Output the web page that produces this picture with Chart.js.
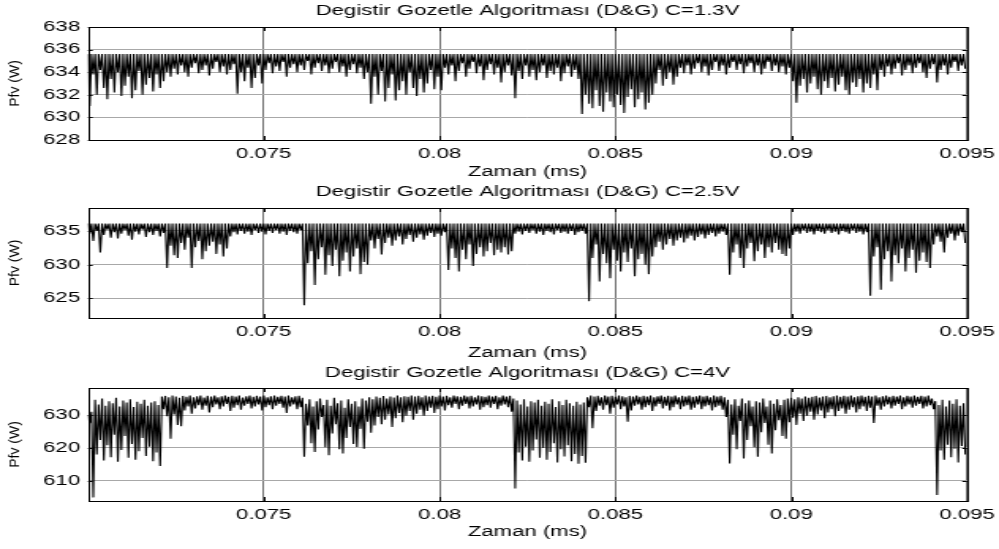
<!DOCTYPE html>
<html>
<head>
<meta charset="utf-8">
<script src="https://cdn.jsdelivr.net/npm/chart.js@4.4.1/dist/chart.umd.min.js"></script>
<style>
    html, body { margin: 0; padding: 0; background: #fff; }
    .panel { position: absolute; left: 0; width: 999px; }
    /* the reference figure is stretched sideways, so the canvases are drawn narrow and widened */
    .panel canvas { width: 999px; }
</style>
</head>
<body>
<div class="panel" style="top:0px;height:182px"><canvas id="c1" width="632" height="182" style="width:999px;height:182px"></canvas></div>
<div class="panel" style="top:182px;height:180px"><canvas id="c2" width="632" height="180" style="width:999px;height:180px"></canvas></div>
<div class="panel" style="top:362px;height:187px"><canvas id="c3" width="632" height="187" style="width:999px;height:187px"></canvas></div>
<script>
const STRETCH = 999 / 632;

const titles = [
    "Degistir Gozetle Algoritması (D&G) C=1.3V",
    "Degistir Gozetle Algoritması (D&G) C=2.5V",
    "Degistir Gozetle Algoritması (D&G) C=4V"
];
const xLabel = "Zaman (ms)";
const yLabel = "Pfv (W)";

const xTicks = [0.075, 0.08, 0.085, 0.09, 0.095];
const yTicks1 = [628, 630, 632, 634, 636, 638];
const yTicks2 = [625, 630, 635];
const yTicks3 = [610, 620, 630];

// sample times: one high + one low per step
const tStart = 0.07;
const tStep = 0.0001;

// C=1.3V
const high1 = 635.6;
const low1 = [
    631.0, 633.8, 632.0, 634.2, 632.6, 631.6, 633.4, 632.2, 634.0, 631.9, 632.8, 633.6, 631.7, 632.4, 634.1, 632.0, 632.9, 633.5, 632.3, 633.8, 632.6, 633.2, 634.0, 633.6, 634.3,
    633.8, 634.6, 634.0, 633.6, 634.4, 634.8, 633.9, 634.2, 634.6, 633.7, 634.3, 634.9, 634.0, 634.5, 633.8, 634.2, 634.7, 632.1, 634.0, 633.2, 634.4, 632.6, 633.5, 634.6, 633.0,
    634.2, 634.8, 633.9, 634.5, 634.1, 634.9, 633.6, 634.4, 634.7, 634.0, 634.6, 634.2, 635.0, 633.8, 634.4, 634.8, 634.1, 634.6, 633.9, 634.3, 634.9, 634.0, 634.5, 633.6, 634.2,
    634.7, 633.9, 634.4, 633.4, 634.0, 631.2, 633.6, 632.0, 634.1, 631.4, 632.6, 633.8, 631.5, 632.4, 633.2, 632.0, 634.0, 632.6, 631.9, 633.4, 632.2, 633.0, 634.2, 632.5, 633.6,
    632.4, 634.4, 633.8, 634.6, 633.2, 634.1, 634.8, 633.6, 634.3, 634.9, 633.9, 634.5, 633.3, 634.2, 634.7, 633.8, 634.4, 633.1, 634.0, 634.6, 633.7, 631.7, 634.1, 633.4, 634.6,
    633.6, 634.2, 633.3, 634.0, 634.6, 633.5, 634.1, 633.8, 634.4, 633.2, 633.9, 634.5, 633.6, 634.2, 633.4, 630.3, 632.0, 631.2, 630.8, 632.4, 631.0, 630.5, 632.2, 631.4, 630.9,
    632.0, 631.1, 630.4, 631.8, 632.5, 630.9, 631.6, 632.2, 630.7, 631.3, 632.0, 633.0, 634.2, 632.8, 633.4, 634.0, 632.9, 633.6, 634.4, 633.9, 634.6, 633.8, 634.3, 634.8, 634.0,
    634.5, 633.7, 634.2, 634.9, 634.1, 634.6, 633.8, 634.4, 634.9, 634.2, 634.7, 633.9, 634.5, 634.8, 634.0, 634.6, 633.8, 634.3, 634.9, 634.1, 634.6, 634.0, 634.5, 633.8, 634.4,
    633.2, 631.3, 632.8, 633.4, 632.2, 633.0, 633.6, 632.5, 632.0, 633.2, 632.6, 633.5, 632.3, 632.9, 633.6, 632.4, 632.0, 633.1, 632.7, 633.4, 632.2, 633.0, 632.6, 633.8, 632.4,
    634.2, 633.6, 634.5, 633.8, 634.3, 634.8, 633.7, 634.2, 634.6, 633.9, 634.4, 634.8, 634.0, 633.5, 634.3, 634.7, 633.1, 634.2, 634.6, 633.8, 634.4, 634.9, 634.1, 634.6, 634.3
];

// C=2.5V
const high2 = 636.1;
const low2 = [
    634.6, 633.5, 635.0, 631.8, 634.4, 635.2, 634.0, 634.8, 633.9, 634.6, 635.1, 634.3, 633.7, 634.9, 634.5, 635.2, 634.1, 634.8, 634.4, 635.0, 634.2, 634.7, 629.5, 632.8, 631.4,
    631.0, 633.2, 632.2, 634.0, 629.5, 632.6, 633.5, 630.8, 632.0, 632.8, 633.4, 631.6, 633.0, 631.2, 632.4, 634.2, 634.8, 634.5, 635.0, 634.6, 634.9, 634.4, 635.1, 634.7, 634.9,
    634.5, 635.0, 634.7, 635.1, 634.6, 634.9, 634.4, 635.0, 634.8, 634.6, 635.1, 624.0, 630.2, 632.0, 627.0, 630.8, 632.6, 628.5, 631.4, 629.8, 632.2, 628.3, 630.6, 631.8, 629.0,
    631.2, 632.4, 628.6, 630.4, 630.0, 633.6, 632.4, 633.8, 631.5, 633.2, 634.0, 632.8, 633.6, 634.2, 633.0, 633.8, 634.4, 633.4, 634.0, 634.5, 633.7, 634.3, 634.7, 634.1, 634.6,
    634.3, 634.8, 629.2, 632.4, 631.0, 629.0, 632.2, 630.8, 633.0, 629.8, 631.6, 632.6, 631.2, 632.0, 633.2, 631.4, 632.2, 631.8, 632.6, 631.5, 632.0, 634.6, 634.9, 634.5, 635.0,
    634.7, 635.1, 634.6, 634.9, 634.4, 635.0, 634.8, 634.5, 635.1, 634.7, 634.9, 634.6, 635.0, 634.4, 634.8, 635.0, 634.6, 624.6, 631.0, 633.0, 627.5, 631.6, 630.2, 628.0, 632.2,
    630.6, 629.0, 631.8, 630.4, 632.4, 628.3, 630.8, 631.6, 630.0, 628.6, 631.2, 632.6, 633.4, 632.2, 633.0, 633.8, 632.8, 633.6, 634.0, 633.3, 633.9, 634.3, 633.6, 634.1, 634.5,
    633.9, 634.4, 634.7, 634.2, 634.6, 634.9, 634.4, 628.5, 631.8, 633.0, 631.0, 629.5, 632.4, 633.2, 630.5, 632.0, 633.0, 631.0, 632.6, 631.8, 633.2, 632.2, 631.6, 631.3, 632.4,
    634.4, 634.9, 634.6, 635.1, 634.7, 634.9, 634.5, 635.0, 634.8, 634.6, 635.1, 634.7, 634.9, 634.5, 635.0, 634.8, 634.6, 635.1, 634.7, 634.9, 634.5, 634.8, 625.4, 631.2, 632.6,
    626.3, 630.8, 632.0, 627.5, 631.4, 630.2, 632.4, 629.0, 631.0, 632.2, 628.8, 630.6, 631.8, 630.4, 629.5, 633.0, 634.2, 633.4, 631.8, 634.0, 634.6, 633.6, 634.3, 634.8, 633.2
];

// C=4V
const high3 = [
    630.0, 631.0, 634.6, 633.2, 635.0, 632.8, 634.2, 633.6, 635.2, 632.6, 634.4, 633.8, 634.8, 632.4, 634.0, 633.4, 634.6, 632.8, 633.8, 634.2, 633.0, 635.6, 635.8, 635.4, 635.9,
    635.6, 635.2, 635.8, 635.5, 635.9, 635.4, 635.7, 635.9, 635.3, 635.8, 635.6, 635.9, 635.4, 635.7, 635.9, 635.5, 635.8, 635.6, 635.9, 635.3, 635.7, 635.9, 635.5, 635.8, 635.6,
    635.9, 635.4, 635.7, 635.9, 635.5, 635.8, 635.6, 635.9, 635.4, 635.7, 635.8, 635.2, 633.4, 634.8, 632.6, 634.2, 635.0, 633.0, 634.6, 632.8, 635.2, 633.6, 634.4, 632.2, 634.8,
    633.4, 634.2, 632.6, 635.0, 634.4, 635.4, 634.8, 635.6, 635.2, 635.8, 635.0, 635.6, 635.3, 635.9, 635.4, 635.7, 635.5, 635.9, 635.6, 635.8, 635.4, 635.9, 635.6, 635.8, 635.5,
    635.9, 635.6, 635.8, 635.4, 635.9, 635.7, 635.5, 635.9, 635.6, 635.8, 635.4, 635.9, 635.7, 635.5, 635.9, 635.6, 635.8, 635.4, 635.9, 635.6, 635.8, 635.0, 634.4, 633.2, 634.8,
    632.6, 634.2, 633.8, 634.6, 632.8, 634.0, 633.4, 634.8, 632.4, 634.2, 633.0, 634.6, 633.6, 632.8, 634.0, 633.2, 633.8, 635.4, 635.9, 635.6, 635.8, 635.4, 635.9, 635.6, 635.8,
    635.5, 635.9, 635.7, 635.4, 635.8, 635.6, 635.9, 635.5, 635.8, 635.6, 635.9, 635.4, 635.7, 635.9, 635.5, 635.8, 635.6, 635.9, 635.4, 635.8, 635.6, 635.9, 635.5, 635.7, 635.9,
    635.6, 635.8, 635.4, 635.9, 635.6, 635.8, 635.4, 634.6, 633.2, 634.8, 632.8, 635.0, 633.6, 634.4, 632.6, 634.2, 633.8, 635.0, 632.6, 634.4, 633.4, 634.8, 633.0, 634.6, 635.0,
    635.2, 634.8, 635.4, 635.0, 635.6, 635.2, 635.5, 635.8, 635.3, 635.6, 635.8, 635.4, 635.7, 635.9, 635.5, 635.8, 635.6, 635.9, 635.4, 635.7, 635.9, 635.5, 635.8, 635.6, 635.9,
    635.4, 635.7, 635.9, 635.5, 635.8, 635.6, 635.9, 635.4, 635.8, 635.6, 635.9, 635.5, 635.8, 635.6, 635.9, 635.0, 634.2, 633.0, 634.6, 632.6, 634.4, 633.4, 634.8, 632.8, 633.6
];
const low3 = [
    627.5, 605.0, 618.0, 622.4, 616.2, 620.8, 617.2, 624.0, 615.8, 619.4, 623.6, 617.0, 621.2, 616.4, 619.0, 623.0, 617.6, 620.4, 616.0, 618.6, 614.5, 631.8, 629.6, 622.8, 630.2,
    627.0, 626.6, 631.4, 632.6, 630.4, 632.0, 633.0, 631.6, 632.8, 630.8, 632.4, 633.2, 631.8, 632.6, 633.4, 631.2, 632.2, 633.0, 631.6, 632.8, 633.4, 632.0, 632.6, 633.2, 631.4,
    632.4, 633.0, 631.8, 632.8, 633.4, 632.2, 630.6, 632.6, 633.2, 631.8, 632.4, 617.3, 626.8, 621.4, 618.8, 625.6, 629.4, 620.2, 617.8, 624.4, 627.2, 619.6, 618.3, 623.0, 626.4,
    621.2, 620.3, 625.8, 619.8, 628.0, 624.6, 626.8, 629.4, 627.2, 628.6, 630.2, 626.4, 629.0, 630.6, 627.8, 629.8, 631.2, 628.6, 630.4, 631.6, 629.8, 631.2, 632.2, 630.6, 631.8,
    632.6, 631.4, 633.0, 632.2, 633.4, 631.8, 632.8, 633.4, 632.0, 632.6, 633.2, 631.6, 632.4, 633.0, 632.2, 633.4, 631.8, 632.8, 633.2, 632.4, 631.0, 607.7, 618.6, 616.2, 620.4,
    615.8, 619.2, 622.6, 617.0, 620.0, 616.4, 618.8, 621.4, 615.6, 619.6, 617.4, 620.8, 616.0, 618.2, 615.2, 617.6, 615.5, 632.4, 626.0, 631.2, 632.8, 631.6, 633.0, 630.4, 632.2,
    633.2, 631.8, 632.6, 628.0, 631.4, 632.8, 633.2, 631.6, 632.4, 633.0, 631.2, 632.6, 633.4, 632.0, 632.8, 631.4, 632.4, 633.2, 631.8, 632.6, 633.0, 631.6, 632.2, 633.2, 631.8,
    632.6, 633.0, 631.4, 632.4, 632.8, 631.6, 629.4, 615.3, 624.0, 619.6, 628.2, 616.8, 622.4, 626.6, 620.2, 617.3, 624.8, 627.6, 621.0, 618.3, 625.4, 628.4, 623.6, 622.8, 627.8,
    629.2, 627.0, 630.4, 628.2, 629.8, 631.0, 628.6, 630.2, 631.4, 629.0, 630.8, 631.8, 629.6, 631.2, 632.0, 630.4, 631.6, 632.4, 630.8, 631.8, 632.6, 631.2, 632.2, 627.6, 632.8,
    631.6, 632.6, 633.2, 632.0, 632.8, 633.4, 631.8, 632.6, 633.2, 632.2, 632.8, 633.4, 632.0, 632.6, 633.0, 631.8, 605.7, 619.2, 616.4, 621.0, 617.2, 619.8, 615.6, 620.6, 618.0
];

function buildSeries(highs, lows) {
    const pts = [];
    for (let i = 0; i < lows.length; i++) {
        const t = tStart + i * tStep;
        const h = Array.isArray(highs) ? highs[i] : highs;
        pts.push({ x: t, y: h });
        pts.push({ x: t + tStep / 2, y: lows[i] });
    }
    return pts;
}

const FONT = "'Liberation Sans', Arial, Helvetica, sans-serif";
Chart.defaults.font.family = FONT;
Chart.defaults.font.size = 14;
Chart.defaults.color = "#000";

// matlab-like box, inward ticks and the rotated y label
const framePlugin = {
    id: "frame",
    afterDraw(chart) {
        const { ctx, chartArea: a, scales } = chart;
        ctx.save();
        ctx.strokeStyle = "#000";
        ctx.lineWidth = 1;
        ctx.beginPath();
        scales.x.ticks.forEach(t => {
            const px = Math.round(scales.x.getPixelForValue(t.value)) + 0.5;
            ctx.moveTo(px, a.top); ctx.lineTo(px, a.top + 4);
            ctx.moveTo(px, a.bottom); ctx.lineTo(px, a.bottom - 4);
        });
        scales.y.ticks.forEach(t => {
            const py = Math.round(scales.y.getPixelForValue(t.value)) + 0.5;
            ctx.moveTo(a.left, py); ctx.lineTo(a.left + 3, py);
            ctx.moveTo(a.right, py); ctx.lineTo(a.right - 3, py);
        });
        ctx.stroke();
        ctx.strokeRect(Math.round(a.left) + 0.5, Math.round(a.top) + 0.5,
            Math.round(a.right - a.left), Math.round(a.bottom - a.top));

        // y label is not widened in the reference: undo the stretch for it
        ctx.translate(15 / STRETCH, (a.top + a.bottom) / 2);
        ctx.scale(1 / STRETCH, 1);
        ctx.rotate(-Math.PI / 2);
        ctx.font = "14px " + FONT;
        ctx.fillStyle = "#000";
        ctx.textAlign = "center";
        ctx.textBaseline = "middle";
        ctx.fillText(yLabel, 0, 0);
        ctx.restore();
    }
};

function makeChart(id, title, points, yMin, yMax, yTicks, lay) {
    return new Chart(document.getElementById(id), {
        type: "line",
        data: {
            datasets: [{
                data: points,
                borderColor: "#000",
                borderWidth: 1.1,
                borderJoinStyle: "bevel",
                pointRadius: 0,
                tension: 0,
                fill: false
            }]
        },
        options: {
            responsive: false,
            animation: false,
            events: [],
            layout: { padding: { left: 0, right: 632 - 967 / STRETCH, top: 0, bottom: 0 } },
            plugins: {
                legend: { display: false },
                tooltip: { enabled: false },
                title: {
                    display: true,
                    text: title,
                    fullSize: false,
                    font: { weight: "normal", size: 14 },
                    color: "#000",
                    padding: { top: lay.titleTop, bottom: lay.titleBottom }
                }
            },
            scales: {
                x: {
                    type: "linear",
                    min: 0.07,
                    max: 0.095,
                    afterBuildTicks: s => { s.ticks = xTicks.map(v => ({ value: v })); },
                    afterFit: s => {
                        s.height = lay.xHeight;
                        // last label may hang into the right margin
                        s.paddingLeft = 0;
                        s.paddingRight = 0;
                    },
                    grid: { color: "#707070", drawTicks: false },
                    border: { display: false },
                    ticks: {
                        padding: 6,
                        maxRotation: 0,
                        autoSkip: false,
                        callback: v => String(Number(v.toFixed(3)))
                    },
                    title: {
                        display: true,
                        text: xLabel,
                        font: { size: 14 },
                        padding: { top: 0, bottom: lay.xTitleBottom }
                    }
                },
                y: {
                    min: yMin,
                    max: yMax,
                    afterBuildTicks: s => { s.ticks = yTicks.map(v => ({ value: v })); },
                    afterFit: s => { s.width = 88 / STRETCH; },
                    grid: { color: "#a8a8a8", drawTicks: false },
                    border: { display: false },
                    ticks: { padding: 5, autoSkip: false }
                }
            }
        },
        plugins: [framePlugin]
    });
}

makeChart("c1", titles[0], buildSeries(high1, low1), 628, 638, yTicks1,
    { titleTop: 3.1, titleBottom: 7.1, xHeight: 42, xTitleBottom: 1.1 });
makeChart("c2", titles[1], buildSeries(high2, low2), 622.1, 638.4, yTicks2,
    { titleTop: 1.6, titleBottom: 7.6, xHeight: 44, xTitleBottom: 0.6 });
makeChart("c3", titles[2], buildSeries(high3, low3), 603.9, 638.2, yTicks3,
    { titleTop: 2.6, titleBottom: 6.6, xHeight: 48, xTitleBottom: 8.6 });
</script>
</body>
</html>
